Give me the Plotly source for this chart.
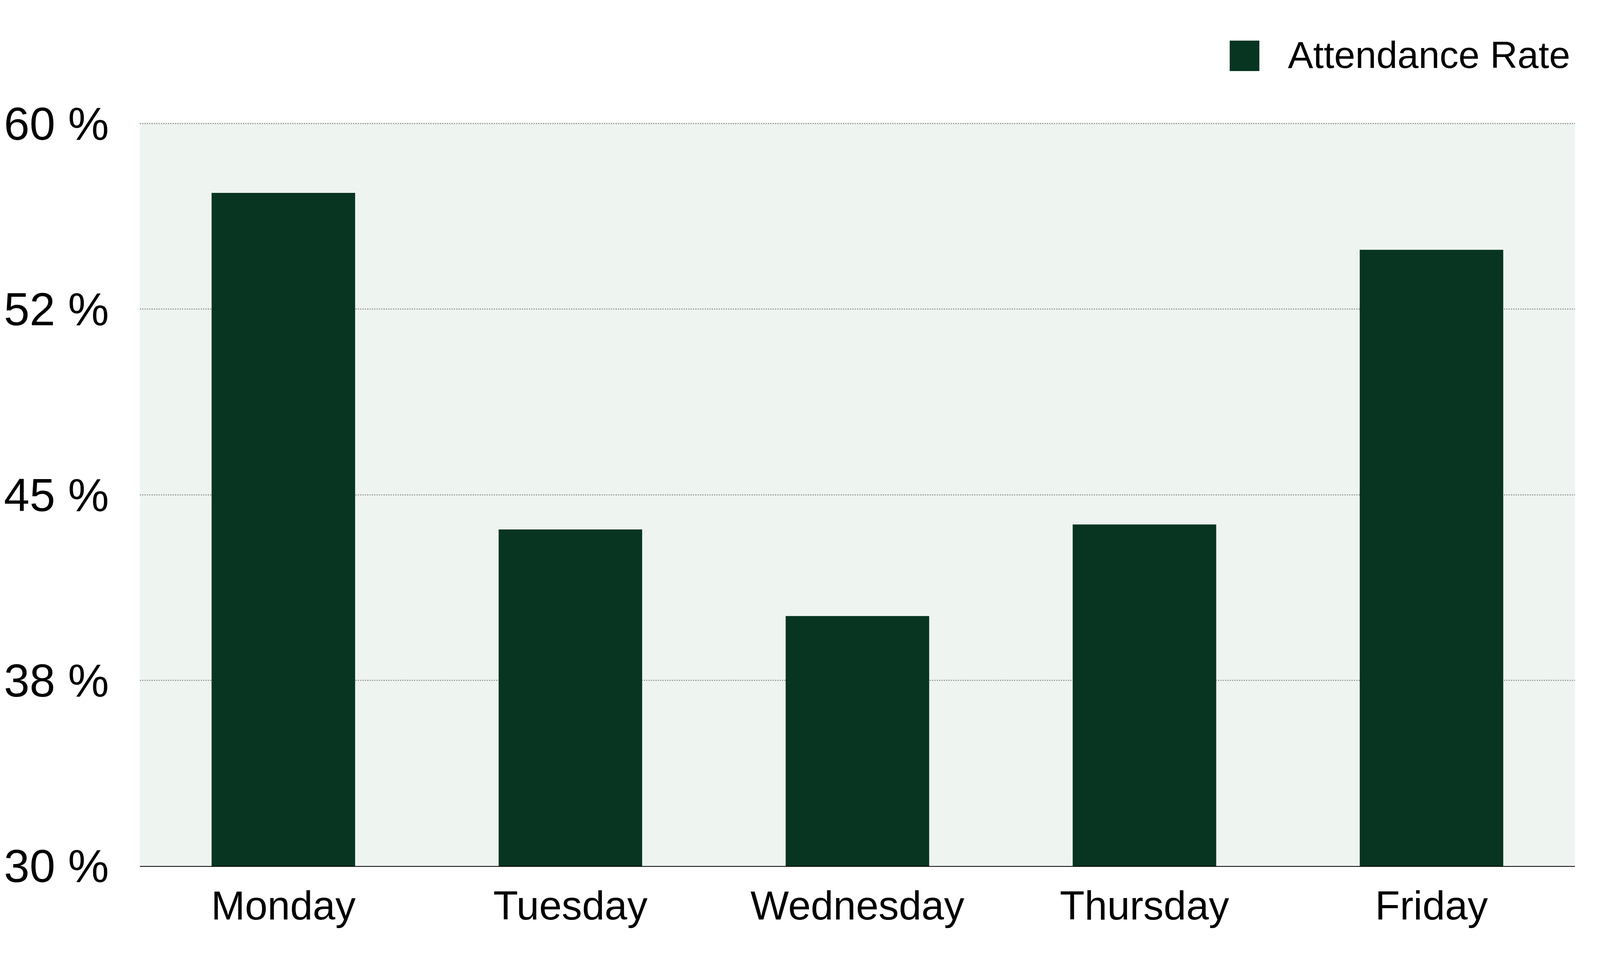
import plotly.graph_objects as go

# Daten
days = ["Monday", "Tuesday", "Wednesday", "Thursday", "Friday"]
attendance_rate = [57.2, 43.6, 40.1, 43.8, 54.9]

y_tick_values = [30, 37.5, 45, 52.5, 60]
y_tick_labels = ["30 %", "38 %", "45 %", "52 %", "60 %"]

series_name = "Attendance Rate"

BAR_COLOR = "#073522"
PLOT_BG = "#eef4f0"
FONT = "Liberation Sans"


def plot_attendance(days, values) -> go.Figure:
    """
    Balkendiagramm der Anwesenheitsquote pro Wochentag.
    """
    fig = go.Figure()
    fig.add_trace(go.Bar(
        x=days,
        y=values,
        name=series_name,
        marker=dict(color=BAR_COLOR, line=dict(width=0)),
        showlegend=False,
    ))

    # Größe folgt dem Browserfenster
    fig.update_layout(
        autosize=True,
        margin=dict(l=350, r=56, t=306, b=266),
        paper_bgcolor="white",
        plot_bgcolor=PLOT_BG,
        bargap=0.5,
        font=dict(family=FONT, color="black"),
    )

    fig.update_xaxes(
        showline=True,
        linecolor="black",
        linewidth=2,
        showgrid=False,
        ticks="",
        tickfont=dict(size=104, family=FONT),
        ticklabelstandoff=10,
        automargin=False,
    )

    # etwas über 60, damit die oberste Gitterlinie noch gezeichnet wird
    fig.update_yaxes(
        range=[30, 60.04],
        tickvals=y_tick_values,
        ticktext=y_tick_labels,
        showgrid=True,
        gridcolor="#9a9a9a",
        gridwidth=3,
        griddash="dot",
        zeroline=False,
        showline=False,
        ticks="",
        tickfont=dict(size=118, family=FONT),
        ticklabelstandoff=78,
        automargin=False,
    )

    # Legende von Hand (Quadrat in Pixeln, rechts am Plotbereich verankert)
    fig.add_shape(
        type="rect",
        xref="paper", yref="paper",
        xsizemode="pixel", ysizemode="pixel",
        xanchor=1, yanchor=1,
        x0=-884, x1=-808, y0=132, y1=210,
        fillcolor=BAR_COLOR,
        line=dict(width=0),
    )
    fig.add_annotation(
        text=series_name,
        xref="paper", yref="paper",
        x=1, y=1,
        xanchor="right", yanchor="middle",
        xshift=-10, yshift=174,
        showarrow=False,
        font=dict(size=97, family=FONT, color="black"),
    )

    return fig


if __name__ == "__main__":
    fig = plot_attendance(days, attendance_rate)
    fig.write_html("out.html", config={"responsive": True})
